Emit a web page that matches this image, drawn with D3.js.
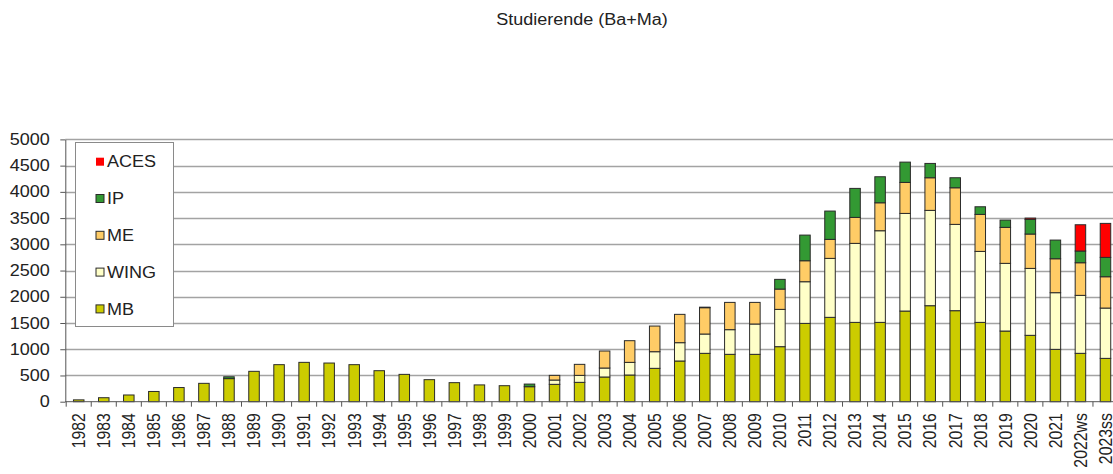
<!DOCTYPE html>
<html>
<head>
<meta charset="utf-8">
<script src="https://cdn.jsdelivr.net/npm/d3@7"></script>
<style>
  body { margin: 0; background: #fff; }
  svg text { font-family: "Liberation Sans", Arial, sans-serif; fill: #222; }
</style>
</head>
<body>
<svg id="chart" width="1113" height="474"></svg>
<script>
// Studierende (Ba+Ma) per year, stacked by programme
const years = ["1982","1983","1984","1985","1986","1987","1988","1989","1990","1991",
  "1992","1993","1994","1995","1996","1997","1998","1999","2000","2001",
  "2002","2003","2004","2005","2006","2007","2008","2009","2010","2011",
  "2012","2013","2014","2015","2016","2017","2018","2019","2020","2021",
  "2022ws","2023ss"];

const MB = [35,76,128,195,270,350,440,579,706,750,
  737,706,591,521,420,363,320,305,286,331,
  369,471,509,636,776,922,903,903,1049,1493,
  1608,1512,1512,1728,1830,1735,1512,1347,1265,998,
  922,826];
const WING = [0,0,0,0,0,0,0,0,0,0,
  0,0,0,0,0,0,0,0,0,82,
  133,171,241,317,349,368,470,578,711,794,
  1124,1506,1747,1861,1817,1645,1353,1290,1276,1080,
  1105,959];
const ME = [0,0,0,0,0,0,0,0,0,0,
  0,0,0,0,0,0,0,0,0,89,
  210,324,413,489,540,502,520,412,387,400,
  362,495,533,591,622,698,705,686,655,647,
  622,597];
const IP = [0,0,0,0,0,0,35,0,0,0,
  0,0,0,0,0,0,0,0,50,0,
  0,0,0,0,0,10,0,0,185,489,
  540,553,496,387,273,191,146,139,279,356,
  223,369];
const ACES = [0,0,0,0,0,0,0,0,0,0,
  0,0,0,0,0,0,0,0,0,0,
  0,0,0,0,0,0,0,0,0,0,
  0,0,0,0,0,0,0,0,25,0,
  501,648];

const seriesNames = ["MB", "WING", "ME", "IP", "ACES"];
const seriesColors = ["#cccc00", "#ffffc8", "#ffcc66", "#339933", "#ff0000"];
const yTicks = [0,500,1000,1500,2000,2500,3000,3500,4000,4500,5000];
const title = "Studierende (Ba+Ma)";

const stretch = 1.14;   // the reference is a bit wide, text included
const fontSize = "15.8px";
const svg = d3.select("#chart");

const rows = years.map((yr, i) => ({
  year: yr, MB: MB[i], WING: WING[i], ME: ME[i], IP: IP[i], ACES: ACES[i]
}));

const x = d3.scaleBand().domain(years).range([66.2, 1118]).paddingInner(0.58).paddingOuter(0.29);
const y = d3.scaleLinear().domain([0, 5000]).range([401.7, 139.4]);
const color = d3.scaleOrdinal().domain(seriesNames).range(seriesColors);

const axisX0 = 65.3;

// gridlines
svg.append("g")
  .selectAll("line")
  .data(yTicks.filter(d => d > 0))
  .join("line")
  .attr("x1", axisX0).attr("x2", 1130)
  .attr("y1", d => Math.round(y(d)) + 0.5).attr("y2", d => Math.round(y(d)) + 0.5)
  .attr("stroke", "#a3a3a3").attr("stroke-width", 1.3);

// stacked bars
const stacked = d3.stack().keys(seriesNames)(rows);
svg.append("g")
  .selectAll("g")
  .data(stacked)
  .join("g")
  .attr("fill", d => color(d.key))
  .selectAll("rect")
  .data(d => d.filter(s => s[1] - s[0] > 0))
  .join("rect")
  .attr("x", d => x(d.data.year))
  .attr("width", x.bandwidth())
  .attr("y", d => y(d[1]))
  .attr("height", d => y(d[0]) - y(d[1]))
  .attr("stroke", "#2a2a2a")
  .attr("stroke-width", 1);

// y axis
const yAxis = svg.append("g")
  .attr("transform", `translate(${axisX0},0)`)
  .call(d3.axisLeft(y).tickValues(yTicks).tickFormat(d3.format("d")).tickSize(5).tickSizeOuter(0));
yAxis.select(".domain").attr("stroke", "#555");
yAxis.selectAll(".tick line").attr("stroke", "#555");
yAxis.selectAll(".tick text")
  .attr("x", 0)
  .attr("transform", `translate(-15.5,0) scale(${stretch},1)`)
  .style("font-size", fontSize)
  .attr("fill", "#222");

// x axis
const xAxis = svg.append("g")
  .attr("transform", `translate(0,${y(0)})`)
  .call(d3.axisBottom(x).tickSize(0).tickSizeOuter(0));
xAxis.select(".domain").attr("stroke", "#555").attr("d", `M${axisX0},0H1130`);
xAxis.selectAll(".tick text")
  .attr("x", 0).attr("y", 0).attr("dy", "0.35em")
  .attr("text-anchor", "end")
  .attr("transform", `translate(0,11.5) scale(${stretch},1) rotate(-90)`)
  .style("font-size", fontSize)
  .attr("fill", "#222");

// category boundary ticks
const bandStart = i => x.range()[0] + i * x.step();
svg.append("g")
  .selectAll("line")
  .data(d3.range(years.length + 1))
  .join("line")
  .attr("x1", bandStart).attr("x2", bandStart)
  .attr("y1", y(0)).attr("y2", y(0) + 5)
  .attr("stroke", "#555");

// legend
const legend = svg.append("g");
legend.append("rect")
  .attr("x", 75.5).attr("y", 142.5).attr("width", 98).attr("height", 184)
  .attr("fill", "#fff").attr("stroke", "#8a8a8a");
const legendOrder = seriesNames.slice().reverse();
const item = legend.selectAll("g.item")
  .data(legendOrder)
  .join("g")
  .attr("class", "item")
  .attr("transform", (d, i) => `translate(0,${161.7 + i * 36.8})`);
item.append("rect")
  .attr("x", 96).attr("y", -4).attr("width", 8).attr("height", 8)
  .attr("fill", d => color(d))
  .attr("stroke", d => d === "ACES" ? "none" : "#2a2a2a");
item.append("text")
  .attr("transform", `translate(107,0) scale(${stretch},1)`)
  .attr("dy", "0.36em")
  .style("font-size", fontSize)
  .text(d => d);

// title
svg.append("text")
  .attr("transform", `translate(582,25) scale(${stretch},1)`)
  .attr("text-anchor", "middle")
  .style("font-size", fontSize)
  .text(title);
</script>
</body>
</html>
